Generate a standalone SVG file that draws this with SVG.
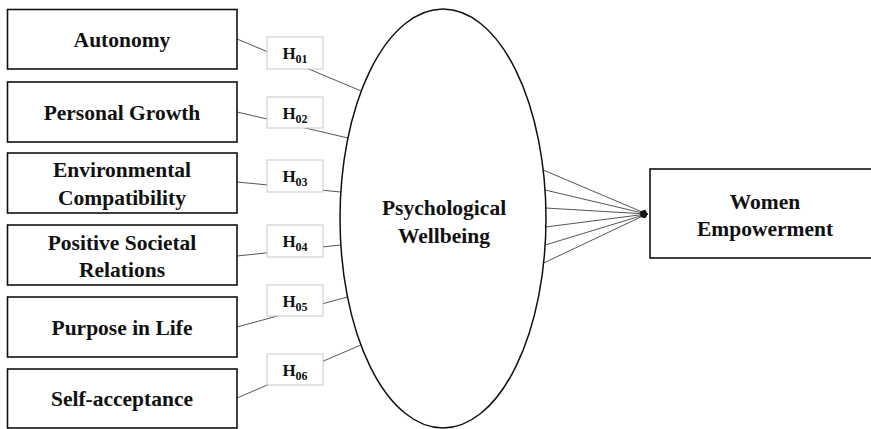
<svg xmlns="http://www.w3.org/2000/svg" width="871" height="429" viewBox="0 0 871 429">
<style>
.box{fill:#fff;stroke:#111;stroke-width:1.6}
.hbox{fill:#fff;stroke:#c8c8c8;stroke-width:1}
.lbl{font-family:"Liberation Serif","Times New Roman",serif;font-weight:bold;font-size:21.5px;fill:#111;text-anchor:middle}
.h{font-family:"Liberation Serif","Times New Roman",serif;font-weight:bold;font-size:17px;fill:#111;text-anchor:middle}
.sub{font-size:12px}
.con{stroke:#555;stroke-width:1;fill:none}
</style>
<defs>
<marker id="dia" viewBox="0 0 10 10" refX="9" refY="5" markerWidth="8" markerHeight="8" markerUnits="userSpaceOnUse" orient="auto">
<path d="M0,5 L5,1 L10,5 L5,9 Z" fill="#111"/>
</marker>
</defs>
<g id="connectors">
<line class="con" x1="237" y1="39" x2="361.3" y2="91"/>
<line class="con" x1="237" y1="112" x2="348" y2="138"/>
<line class="con" x1="237" y1="182" x2="340.8" y2="192"/>
<line class="con" x1="237" y1="256" x2="340.8" y2="245"/>
<line class="con" x1="237" y1="327" x2="347.5" y2="297"/>
<line class="con" x1="237" y1="398" x2="360.9" y2="345"/>
<line class="con" x1="543.2" y1="170" x2="647" y2="214" marker-end="url(#dia)"/>
<line class="con" x1="545" y1="190" x2="647" y2="214" marker-end="url(#dia)"/>
<line class="con" x1="545.5" y1="208" x2="647" y2="214" marker-end="url(#dia)"/>
<line class="con" x1="545.5" y1="227" x2="647" y2="214" marker-end="url(#dia)"/>
<line class="con" x1="545.3" y1="245" x2="647" y2="214" marker-end="url(#dia)"/>
<line class="con" x1="543.7" y1="263" x2="647" y2="214" marker-end="url(#dia)"/>
</g>
<g id="autonomy">
<rect class="box" x="7.5" y="9.5" width="229.5" height="59.5"/>
<text class="lbl" x="122" y="47">Autonomy</text>
</g>
<g id="personal-growth">
<rect class="box" x="7.5" y="82" width="229.5" height="60"/>
<text class="lbl" x="122" y="120">Personal Growth</text>
</g>
<g id="environmental-compatibility">
<rect class="box" x="7.5" y="153" width="229.5" height="60"/>
<text class="lbl" x="122" y="177">Environmental</text>
<text class="lbl" x="122" y="205">Compatibility</text>
</g>
<g id="positive-societal-relations">
<rect class="box" x="7.5" y="225" width="229.5" height="60"/>
<text class="lbl" x="122" y="250">Positive Societal</text>
<text class="lbl" x="122" y="277">Relations</text>
</g>
<g id="purpose-in-life">
<rect class="box" x="7.5" y="297" width="229.5" height="60"/>
<text class="lbl" x="122" y="335">Purpose in Life</text>
</g>
<g id="self-acceptance">
<rect class="box" x="7.5" y="369" width="229.5" height="59"/>
<text class="lbl" x="122" y="406">Self-acceptance</text>
</g>
<g id="h01">
<rect class="hbox" x="267" y="37" width="56" height="32"/>
<text class="h" x="295" y="59">H<tspan class="sub" dy="4">01</tspan></text>
</g>
<g id="h02">
<rect class="hbox" x="267" y="97" width="56" height="31"/>
<text class="h" x="295" y="119">H<tspan class="sub" dy="4">02</tspan></text>
</g>
<g id="h03">
<rect class="hbox" x="267" y="160" width="56" height="32"/>
<text class="h" x="295" y="182">H<tspan class="sub" dy="4">03</tspan></text>
</g>
<g id="h04">
<rect class="hbox" x="267" y="225" width="56" height="32"/>
<text class="h" x="295" y="247">H<tspan class="sub" dy="4">04</tspan></text>
</g>
<g id="h05">
<rect class="hbox" x="267" y="285" width="56" height="31"/>
<text class="h" x="295" y="307">H<tspan class="sub" dy="4">05</tspan></text>
</g>
<g id="h06">
<rect class="hbox" x="267" y="354" width="56" height="31"/>
<text class="h" x="295" y="376">H<tspan class="sub" dy="4">06</tspan></text>
</g>
<g id="psychological-wellbeing">
<ellipse cx="443" cy="218.5" rx="103" ry="209.5" fill="none" stroke="#111" stroke-width="1.5"/>
<text class="lbl" x="444" y="215">Psychological</text>
<text class="lbl" x="444" y="243">Wellbeing</text>
</g>
<g id="women-empowerment">
<rect class="box" x="650" y="169" width="230" height="89"/>
<text class="lbl" x="765" y="209">Women</text>
<text class="lbl" x="765" y="236">Empowerment</text>
</g>
</svg>
